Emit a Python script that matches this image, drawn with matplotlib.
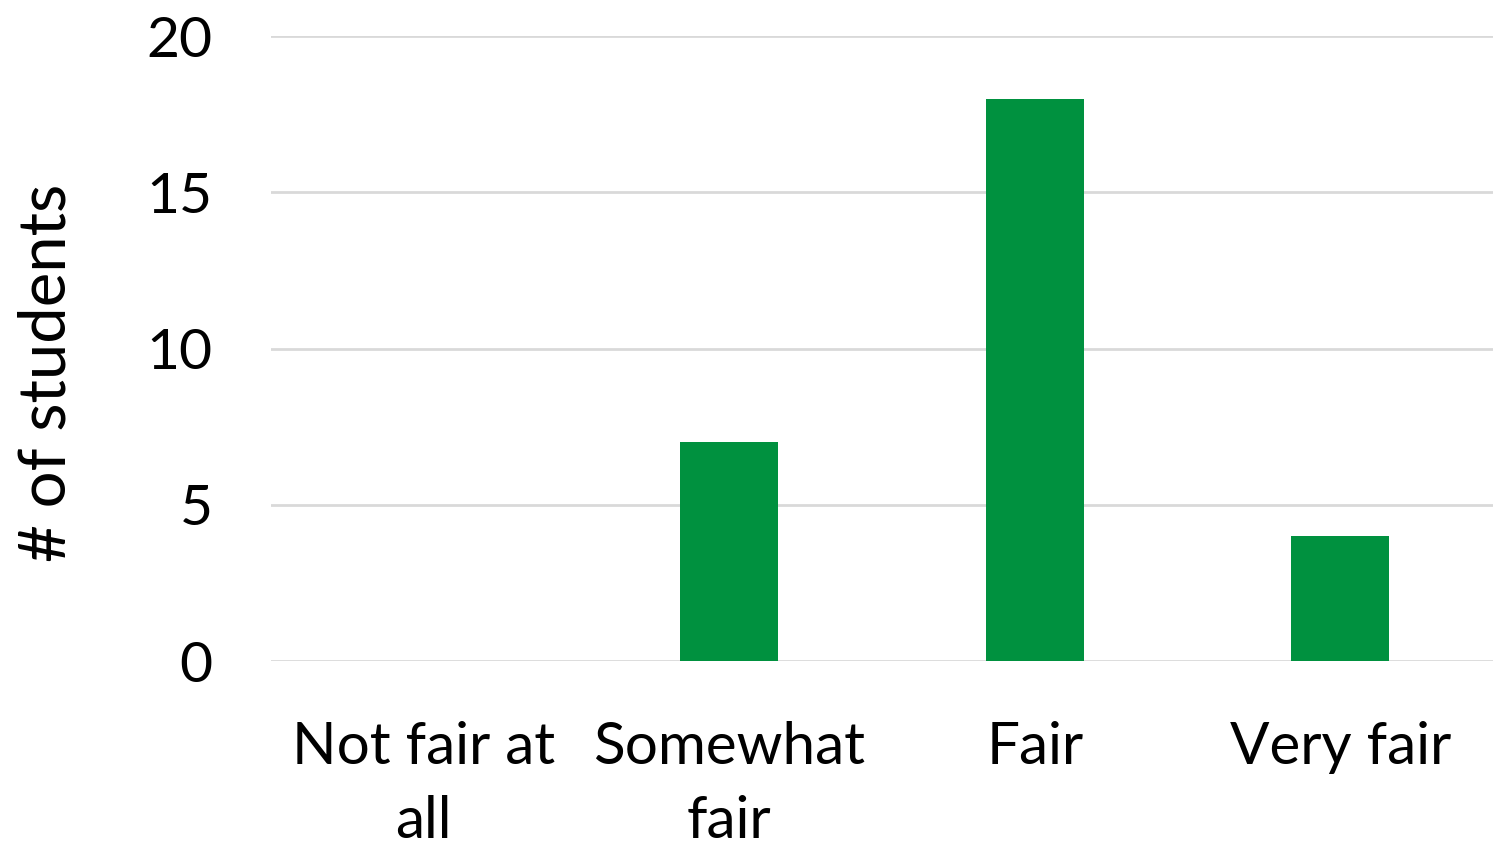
import numpy as np
import matplotlib.pyplot as plt

plt.rcParams['font.family'] = ['Lato', 'DejaVu Sans']

# data
categories = ["Not fair at\nall", "Somewhat\nfair", "Fair", "Very fair"]
counts = [0, 7, 18, 4]
yticks = [0, 5, 10, 15, 20]

fig = plt.figure(figsize=(14.93, 8.47), dpi=100)
ax = fig.add_axes([271/1493, 1 - 661/847, 1 - 271/1493, 625/847])

x = np.arange(len(categories))
ax.bar(x, counts, width=0.32, color='#00913F', zorder=3)

ax.set_xlim(-0.5, len(categories) - 0.5)
ax.set_ylim(0, 20)
ax.set_yticks(yticks)
ax.set_xticks(x)
ax.set_xticklabels(categories, fontsize=42, linespacing=1.5)
ax.tick_params(axis='y', labelsize=41, length=0, pad=42)
ax.tick_params(axis='x', length=0, pad=43)
for lbl in ax.get_yticklabels():
    lbl.set_horizontalalignment('right')

ax.grid(axis='y', color='#d9d9d9', linewidth=2, zorder=0)
for s in ax.spines.values():
    s.set_visible(False)

fig.text(47/1493, 1 - 373/847, "# of students", fontsize=47, rotation=90,
         ha='center', va='center')

fig.savefig("out.png", dpi=100)
